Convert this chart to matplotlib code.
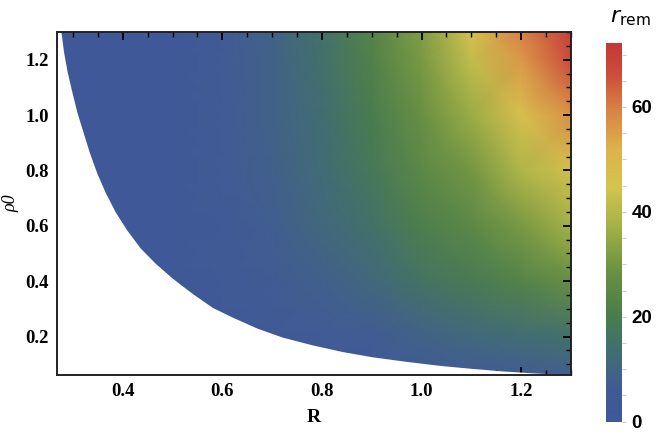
import numpy as np
import matplotlib
matplotlib.use("Agg")
import matplotlib.pyplot as plt
from matplotlib.colors import LinearSegmentedColormap
from matplotlib.ticker import MultipleLocator

# ---- data ----
R_grid = [0.26, 0.4, 0.5, 0.6, 0.7, 0.8, 0.9, 1.0, 1.1, 1.2, 1.31]
rho_grid = [0.05, 0.2, 0.4, 0.6, 0.8, 1.0, 1.2, 1.31]
r_rem_by_R = {
    0.26: [0.5, 0.5, 0.5, 0.5, 0.5, 0.5, 0.5, 0.5],
    0.4:  [1.0, 1.0, 1.0, 1.0, 1.2, 1.2, 1.3, 1.3],
    0.5:  [1.5, 1.6, 1.8, 2.0, 2.2, 2.3, 2.5, 2.5],
    0.6:  [2.0, 3.0, 4.0, 4.5, 5.0, 5.0, 5.5, 5.5],
    0.7:  [3.0, 4.0, 6.0, 7.0, 8.0, 8.5, 9.0, 9.0],
    0.8:  [3.0, 5.0, 8.0, 11.0, 12.5, 13.5, 14.5, 15.0],
    0.9:  [4.0, 6.0, 11.0, 15.0, 18.0, 20.0, 22.0, 23.0],
    1.0:  [4.0, 9.0, 16.0, 21.0, 25.0, 28.0, 31.0, 32.0],
    1.1:  [5.0, 11.0, 19.0, 25.0, 30.0, 36.0, 42.0, 46.0],
    1.2:  [6.0, 13.0, 23.0, 31.0, 39.0, 47.0, 56.0, 60.0],
    1.31: [7.0, 15.0, 28.0, 38.0, 47.0, 58.0, 69.0, 72.0],
}
# lower edge of the existing region (white below)
boundary_R = [0.20, 0.276, 0.281, 0.288, 0.297, 0.308, 0.320, 0.333, 0.348,
              0.365, 0.385, 0.408, 0.435, 0.465, 0.50, 0.54, 0.58, 0.62,
              0.67, 0.72, 0.78, 0.84, 0.90, 0.97, 1.04, 1.10, 1.16, 1.22,
              1.31]
boundary_rho = [1.60, 1.30, 1.23, 1.16, 1.09, 1.01, 0.94, 0.865, 0.79,
                0.72, 0.65, 0.585, 0.52, 0.465, 0.41, 0.355, 0.305, 0.27,
                0.23, 0.198, 0.17, 0.146, 0.127, 0.11, 0.095, 0.085, 0.076,
                0.069, 0.061]

cbar_ticks = [0, 20, 40, 60]
xticks = [0.4, 0.6, 0.8, 1.0, 1.2]
yticks = [0.2, 0.4, 0.6, 0.8, 1.0, 1.2]

# ---- colormap (DarkRainbow-like) ----
cmap_colors = [
    (0.00, (0.243, 0.345, 0.600)),
    (0.08, (0.255, 0.357, 0.585)),
    (0.17, (0.255, 0.420, 0.470)),
    (0.28, (0.290, 0.490, 0.300)),
    (0.40, (0.420, 0.570, 0.260)),
    (0.52, (0.650, 0.700, 0.280)),
    (0.62, (0.830, 0.770, 0.310)),
    (0.72, (0.870, 0.700, 0.300)),
    (0.83, (0.850, 0.500, 0.270)),
    (0.92, (0.800, 0.300, 0.240)),
    (1.00, (0.770, 0.220, 0.220)),
]
cmap = LinearSegmentedColormap.from_list("darkrainbow", cmap_colors)
vmin, vmax = 0, 72.2

fig = plt.figure(figsize=(6.69, 4.43), dpi=100)
ax = fig.add_axes([57 / 669, 68 / 443, 514 / 669, 343 / 443])

Rg, Pg = np.meshgrid(np.array(R_grid), np.array(rho_grid))
Z = np.array([r_rem_by_R[r] for r in R_grid]).T
ax.pcolormesh(Rg, Pg, Z, shading="gouraud", cmap=cmap, vmin=vmin, vmax=vmax,
              rasterized=True)
ax.fill_between(boundary_R, 0.0, boundary_rho, color="white", lw=0, zorder=2)

ax.set_xlim(0.268, 1.300)
ax.set_ylim(0.061, 1.300)

serif = "Liberation Serif"
ax.set_xticks(xticks)
ax.set_yticks(yticks)
ax.set_xticklabels([f"{t:.1f}" for t in xticks], fontfamily=serif,
                   fontweight="bold", fontsize=13.5)
ax.set_yticklabels([f"{t:.1f}" for t in yticks], fontfamily=serif,
                   fontweight="bold", fontsize=13.5)
ax.xaxis.set_minor_locator(MultipleLocator(0.05))
ax.yaxis.set_minor_locator(MultipleLocator(0.05))
ax.tick_params(which="both", direction="in", top=True, right=True,
               color="black", zorder=5)
ax.tick_params(which="major", length=6, width=1.3, pad=6)
ax.tick_params(which="minor", length=3.5, width=1.0)
for s in ax.spines.values():
    s.set_linewidth(1.4)
    s.set_color("#222222")
    s.set_zorder(6)

ax.set_xlabel("R", fontfamily=serif, fontweight="bold", fontsize=14,
              labelpad=6)
ax.set_ylabel("ρ0", fontfamily=serif, fontstyle="italic", fontsize=13,
              labelpad=4)

# ---- colorbar ----
cax = fig.add_axes([605.7 / 669, (443 - 421.7) / 443, 16 / 669,
                    (421.7 - 43) / 443])
grad = np.linspace(vmin, vmax, 256).reshape(-1, 1)
cax.imshow(grad, aspect="auto", origin="lower", cmap=cmap, vmin=vmin,
           vmax=vmax, extent=[0, 1, vmin, vmax])
cax.set_xlim(0, 1)
cax.set_ylim(vmin, vmax)
cax.set_xticks([])
cax.yaxis.tick_right()
cax.set_yticks(cbar_ticks)
cax.set_yticklabels([str(t) for t in cbar_ticks], fontfamily="Liberation Sans",
                    fontweight="bold", fontsize=13.5)
cax.yaxis.set_minor_locator(MultipleLocator(5))
cax.tick_params(which="both", axis="y", direction="out", color="#cccccc",
                length=3, width=0.8, pad=4)
for s in cax.spines.values():
    s.set_visible(False)

fig.text(630 / 669, 1 - 18 / 443, r"$r_{\mathrm{rem}}$", ha="center",
         va="center", fontsize=16)

fig.savefig("out.png", dpi=100)
